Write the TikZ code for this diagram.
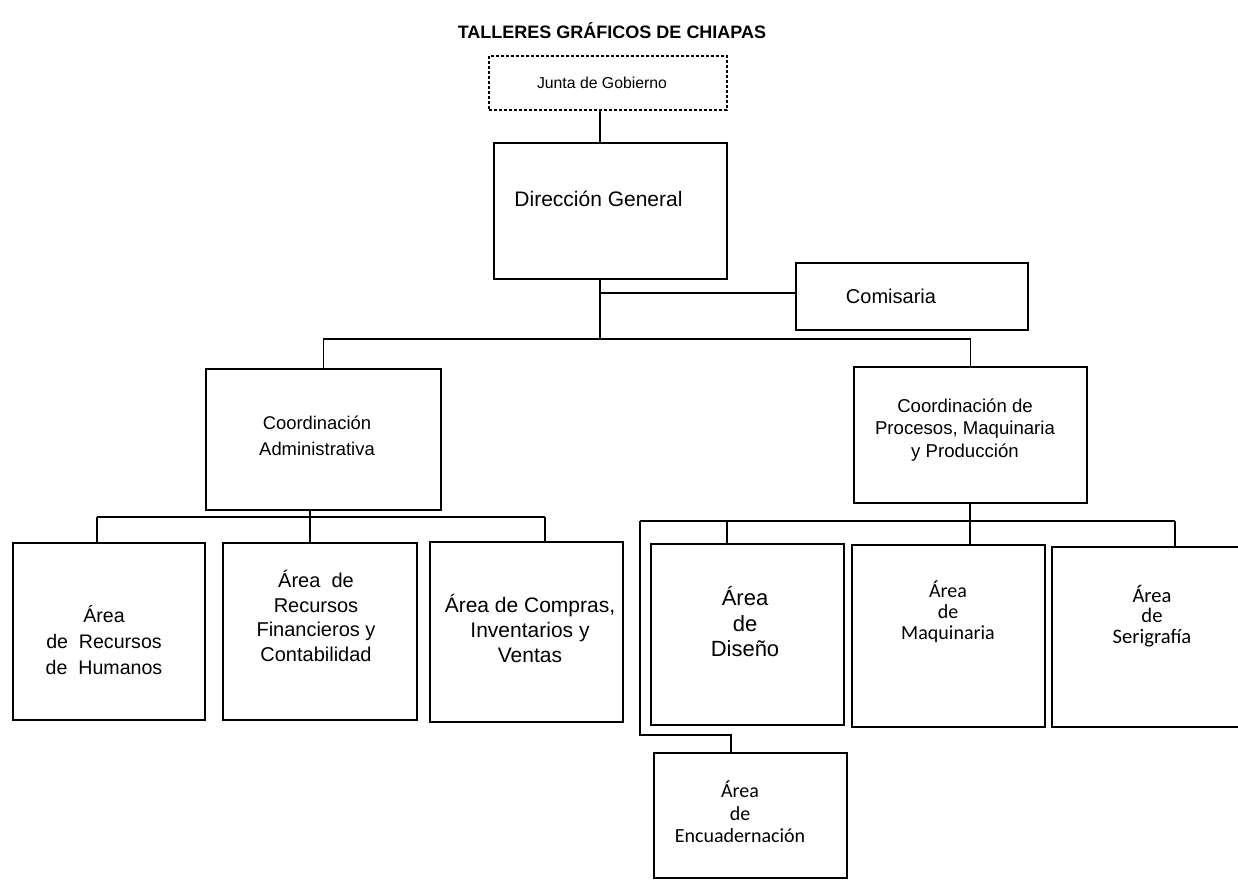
\documentclass[tikz,border=0pt]{standalone}
\usepackage{fontspec}
\setmainfont{Liberation Sans}
\newfontfamily\narrowface{Carlito}
\usetikzlibrary{positioning}

\begin{document}
\begin{tikzpicture}[x=0.5pt, y=-0.5pt, every node/.style={anchor=center},
  orgbox/.style={draw, line width=0.9pt, inner sep=0pt},
  juntabox/.style={draw, line width=0.6pt, dash pattern=on 1.5pt off 1pt, inner sep=0pt},
  boxtext/.style={align=center, inner sep=0pt},
  link/.style={line width=0.9pt}]

\useasboundingbox (0,0) rectangle (1238,880);

\node[font=\bfseries\fontsize{9}{11}\selectfont] (title) at (612,31) {TALLERES GRÁFICOS DE CHIAPAS};

% top of the chart
\node[juntabox, minimum width=119pt, minimum height=27pt] (junta) at (608,83) {};
\node[boxtext, font=\fontsize{7.9}{9.5}\selectfont] (junta-txt) at (602,83) {Junta de Gobierno};

\node[orgbox, minimum width=116.5pt, minimum height=68pt] (dg) at (610.5,211) {};
\node[boxtext, font=\fontsize{10.5}{12.5}\selectfont] (dg-txt) at (598.5,199) {Dirección General};

\node[orgbox, minimum width=116pt, minimum height=33.5pt] (com) at (912,296.5) {};
\node[boxtext, font=\fontsize{10}{12}\selectfont] (com-txt) at (891,296) {Comisaria};

% coordinations
\node[orgbox, minimum width=117.5pt, minimum height=70.5pt] (adm) at (323.5,439.5) {};
\node[boxtext, font=\fontsize{9.2}{13}\selectfont] (adm-txt) at (317,436) {Coordinación\\Administrativa};

\node[orgbox, minimum width=116.5pt, minimum height=68pt] (proc) at (970.5,435) {};
\node[boxtext, font=\fontsize{9.3}{11.25}\selectfont] (proc-txt) at (965,430) {Coordinación de\\Procesos, Maquinaria\\y Producción};

% areas under the administration
\node[orgbox, minimum width=96pt, minimum height=88.5pt] (rh) at (109,631.5) {};
\node[boxtext, font=\fontsize{9.8}{13}\selectfont] (rh-txt) at (104,640) {Área\\de\ \ Recursos\\de\ \ Humanos};

\node[orgbox, minimum width=97pt, minimum height=88.5pt] (fin) at (320,631.5) {};
\node[boxtext, font=\fontsize{10}{12.2}\selectfont] (fin-txt) at (316,616) {Área\ \ de\\Recursos\\Financieros y\\Contabilidad};

\node[orgbox, minimum width=96.5pt, minimum height=90pt] (ven) at (526.5,632) {};
\node[boxtext, font=\fontsize{10.5}{12.5}\selectfont] (ven-txt) at (530,628) {Área de Compras,\\Inventarios y\\Ventas};

% areas under the production
\node[orgbox, minimum width=96.5pt, minimum height=90.5pt] (dis) at (747.5,634.5) {};
\node[boxtext, font=\fontsize{11}{12.75}\selectfont] (dis-txt) at (745,622) {Área\\de\\Diseño};

\node[orgbox, minimum width=96.5pt, minimum height=91pt] (maq) at (948.5,636) {};
\node[boxtext, font=\narrowface\fontsize{10}{10.5}\selectfont] (maq-txt) at (948,612) {Área\\de\\Maquinaria};

\node[orgbox, minimum width=100pt, minimum height=90pt] (ser) at (1152,637) {};
\node[boxtext, font=\narrowface\fontsize{10.3}{10.3}\selectfont] (ser-txt) at (1152,616) {Área\\de\\Serigrafía};

\node[orgbox, minimum width=96.5pt, minimum height=62.5pt] (enc) at (750.5,815.5) {};
\node[boxtext, font=\narrowface\fontsize{10}{11.25}\selectfont] (enc-txt) at (740,812) {Área\\de\\Encuadernación};

% bus points
\coordinate (spine) at (600,339);
\coordinate (lb1) at (97,517);
\coordinate (lb2) at (310,517);
\coordinate (lb3) at (545,517);
\coordinate (rb0) at (640,521);
\coordinate (rb1) at (727,521);
\coordinate (rb2) at (970,521);
\coordinate (rb3) at (1175,521);
\coordinate (eb) at (731,735);

% main line
\draw[link] (junta.south -| spine) -- (dg.north -| spine);
\draw[link] (dg.south -| spine) -- (spine);
\draw[link] (spine |- 0,293) -- (com.west |- 0,293);
\draw[link] (adm.north) |- (spine) -| (proc.north);

% left branch
\draw[link] (adm.south -| lb2) -- (lb2);
\draw[link] (lb1) -- (lb3);
\foreach \c/\n in {lb1/rh, lb2/fin, lb3/ven}
  \draw[link] (\c) -- (\n.north -| \c);

% right branch
\draw[link] (proc.south -| rb2) -- (rb2);
\draw[link] (rb0) -- (rb3);
\foreach \c/\n in {rb1/dis, rb2/maq, rb3/ser}
  \draw[link] (\c) -- (\n.north -| \c);
\draw[link] (rb0) |- (eb) -- (enc.north -| eb);

\end{tikzpicture}
\end{document}
